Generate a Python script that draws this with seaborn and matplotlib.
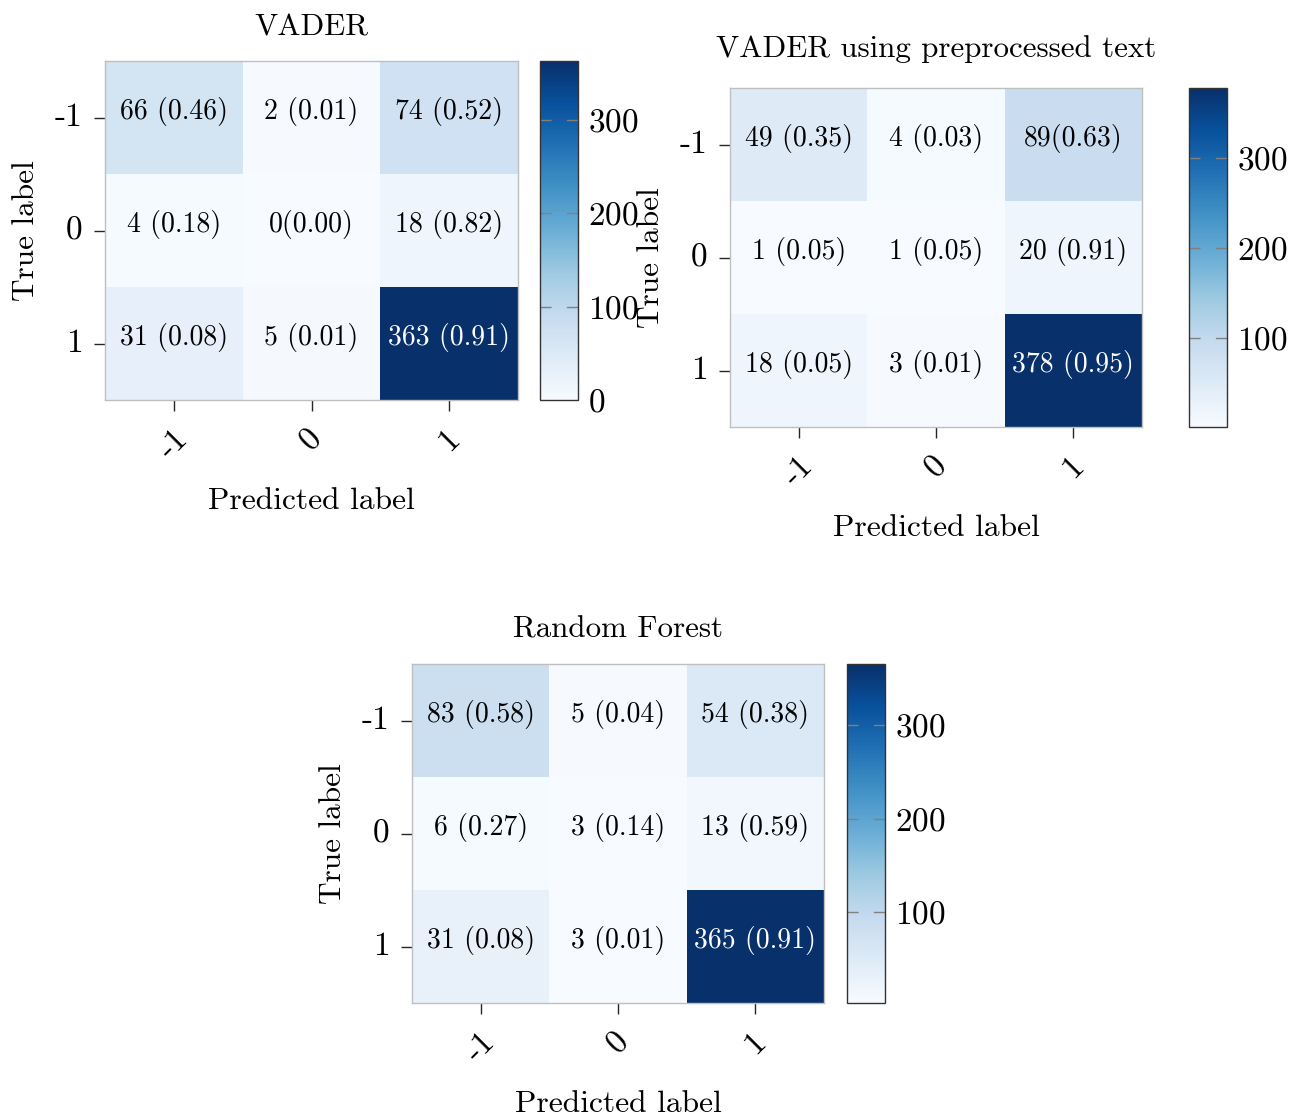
"""
Confusion matrices for the sentiment models (VADER, VADER on preprocessed
text, Random Forest). Writes out.png.
"""

import matplotlib
matplotlib.use("Agg")
import matplotlib.pyplot as plt
import seaborn as sns

CLASSES = ["-1", "0", "1"]

# ── data ──────────────────────────────────────────────────────────────────────
VADER_COUNTS = [[66, 2, 74],
                [4, 0, 18],
                [31, 5, 363]]
VADER_ANNOT = [["66 (0.46)", "2 (0.01)", "74 (0.52)"],
               ["4 (0.18)", "0(0.00)", "18 (0.82)"],
               ["31 (0.08)", "5 (0.01)", "363 (0.91)"]]

VADER_PRE_COUNTS = [[49, 4, 89],
                    [1, 1, 20],
                    [18, 3, 378]]
VADER_PRE_ANNOT = [["49 (0.35)", "4 (0.03)", "89(0.63)"],
                   ["1 (0.05)", "1 (0.05)", "20 (0.91)"],
                   ["18 (0.05)", "3 (0.01)", "378 (0.95)"]]

RF_COUNTS = [[83, 5, 54],
             [6, 3, 13],
             [31, 3, 365]]
RF_ANNOT = [["83 (0.58)", "5 (0.04)", "54 (0.38)"],
            ["6 (0.27)", "3 (0.14)", "13 (0.59)"],
            ["31 (0.08)", "3 (0.01)", "365 (0.91)"]]

TITLES = ["VADER", "VADER using preprocessed text", "Random Forest"]

# ── layout (pixels) ──────────────────────────────────────────────────────────
W, H = 1299, 1117
PANELS = [
    # heatmap rect, colorbar rect, title pad
    ((105, 61, 413, 339), (540, 61, 38, 339), 18),
    ((730, 88, 412, 339), (1189, 88, 38, 339), 22),
    ((412, 664, 412, 339), (847, 664, 38, 339), 19),
]


def px_rect(x, y, w, h):
    return [x / W, 1 - (y + h) / H, w / W, h / H]


sns.set_theme(style="whitegrid")
plt.rcParams["font.family"] = ["cmr10", "DejaVu Serif"]
plt.rcParams["axes.unicode_minus"] = False
plt.rcParams["axes.formatter.use_mathtext"] = True
plt.rcParams["text.color"] = "black"
plt.rcParams["axes.labelcolor"] = "black"
plt.rcParams["xtick.color"] = "black"
plt.rcParams["ytick.color"] = "black"


def plot_cm(fig, counts, annot, title, layout):
    rect, cbar_rect, tpad = layout
    ax = fig.add_axes(px_rect(*rect))
    cax = fig.add_axes(px_rect(*cbar_rect))
    sns.heatmap(counts, annot=annot, fmt="", cmap="Blues", ax=ax, cbar_ax=cax,
                xticklabels=CLASSES, yticklabels=CLASSES,
                annot_kws={"fontsize": 20})
    # LaTeX-rendered cell text sits a little above the cell centre
    for t in ax.texts:
        t.set_y(t.get_position()[1] - 0.05)
        if t.get_color() != "w":
            t.set_color("black")

    ax.set_title(title, fontsize=22.3, pad=tpad)
    ax.set_xlabel("Predicted label", fontsize=22.7, labelpad=17)
    ax.set_ylabel("True label", fontsize=22.5, labelpad=11)
    ax.tick_params(axis="both", bottom=True, left=True, length=8, width=1,
                   color="0.15", labelsize=24, pad=8)
    ax.tick_params(axis="x", pad=9)
    plt.setp(ax.get_xticklabels(), rotation=45, ha="center")
    plt.setp(ax.get_yticklabels(), rotation=0)
    for sp in ax.spines.values():
        sp.set_visible(True)
        sp.set_color("0.75")
        sp.set_linewidth(1)

    # colorbar: ticks every 100, dashed guide lines across the bar
    cbar = ax.collections[0].colorbar
    vmin, vmax = cbar.vmin, cbar.vmax
    ticks = [t for t in range(0, 400, 100) if vmin <= t <= vmax]
    cbar.set_ticks(ticks)
    cbar.outline.set_edgecolor("0.2")
    cbar.outline.set_linewidth(1)
    cax.tick_params(length=0, labelsize=24, pad=7)
    for t in ticks:
        if t > vmin:
            cax.axhline(t, color="0.5", lw=1, ls=(0, (8, 11)))


fig = plt.figure(figsize=(W / 100, H / 100), dpi=100)
plot_cm(fig, VADER_COUNTS, VADER_ANNOT, TITLES[0], PANELS[0])
plot_cm(fig, VADER_PRE_COUNTS, VADER_PRE_ANNOT, TITLES[1], PANELS[1])
plot_cm(fig, RF_COUNTS, RF_ANNOT, TITLES[2], PANELS[2])

fig.savefig("out.png", dpi=100)
plt.close(fig)
